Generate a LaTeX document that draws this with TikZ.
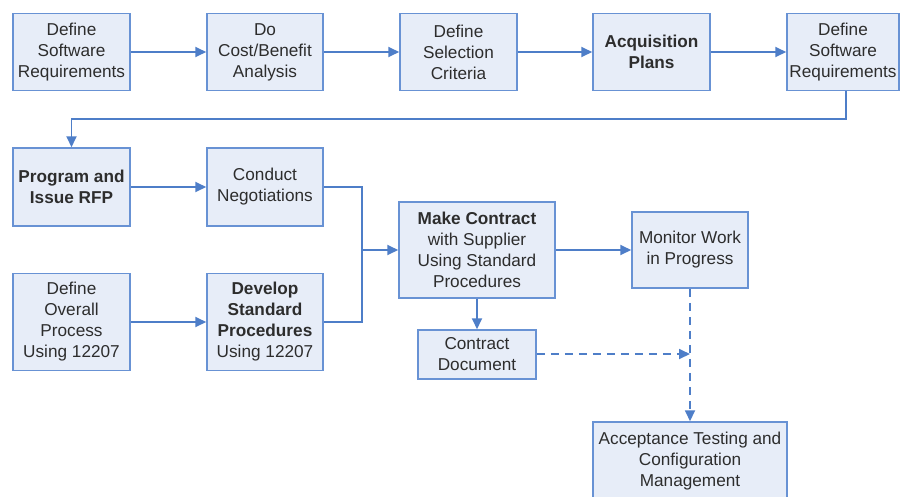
\documentclass[tikz,border=0pt]{standalone}
\usepackage{fontspec}
\setmainfont{Liberation Sans}
\usetikzlibrary{arrows.meta}
\definecolor{boxfill}{RGB}{231,237,248}
\definecolor{boxedge}{RGB}{104,146,212}
\definecolor{flow}{RGB}{78,126,200}
\definecolor{ink}{RGB}{45,45,45}
\begin{document}
\begin{tikzpicture}[x=1pt,y=-1pt,
  stepbox/.style={draw=boxedge,fill=boxfill,line width=1.5pt,inner sep=0pt,
    align=center,text=ink,font=\fontsize{17.2}{21}\selectfont},
  flowline/.style={draw=flow,line width=1.8pt},
  arr/.style={flowline,-{Triangle[length=11pt,width=10pt]}},
  dsh/.style={dash pattern=on 8pt off 6pt}]
\useasboundingbox (0,0) rectangle (901,496);
\begin{scope}
\clip (0,0) rectangle (901,496);
% top row
\node[stepbox,minimum width=117,minimum height=77] (b1) at (71.5,52) {Define\\Software\\Requirements};
\node[stepbox,minimum width=116,minimum height=77] (b2) at (265,52) {Do\\Cost/Benefit\\Analysis};
\node[stepbox,minimum width=117,minimum height=77] (b3) at (458.5,52) {Define\\Selection\\Criteria};
\node[stepbox,minimum width=117,minimum height=77] (b4) at (651.5,52) {\textbf{Acquisition}\\\textbf{Plans}};
\node[stepbox,minimum width=112,minimum height=77] (b5) at (843,52) {Define\\Software\\Requirements};
% second row
\node[stepbox,minimum width=117,minimum height=78] (b6) at (71.5,187) {\textbf{Program and}\\\textbf{Issue RFP}};
\node[stepbox,minimum width=116,minimum height=78] (b7) at (265,187) {Conduct\\Negotiations};
% third row
\node[stepbox,minimum width=117,minimum height=97] (b8) at (71.5,322) {Define\\Overall\\Process\\Using 12207};
\node[stepbox,minimum width=116,minimum height=97] (b9) at (265,322) {\textbf{Develop}\\\textbf{Standard}\\\textbf{Procedures}\\Using 12207};
% contract and monitoring
\node[stepbox,minimum width=156,minimum height=96] (b10) at (477,250) {\textbf{Make Contract}\\with Supplier\\Using Standard\\Procedures};
\node[stepbox,minimum width=116,minimum height=76] (b11) at (690,250) {Monitor Work\\in Progress};
\node[stepbox,minimum width=118,minimum height=49] (b12) at (477,354.5) {Contract\\Document};
\node[stepbox,minimum width=194,minimum height=78] (b13) at (690,461) {Acceptance Testing and\\Configuration\\Management};
\end{scope}
% junction points
\coordinate (j) at (362,250);
\coordinate (m) at (690,354);
% connectors
\draw[arr] (b1) -- (b2);
\draw[arr] (b2) -- (b3);
\draw[arr] (b3) -- (b4);
\draw[arr] (b4) -- (b5);
\draw[arr] ([xshift=3pt]b5.south) -- ++(0,28) -| (b6.north);
\draw[arr] (b6) -- (b7);
\draw[arr] (b8) -- (b9);
\draw[flowline] (b7.east) -| (j) |- (b9.east);
\draw[arr] (j) -- (b10.west);
\draw[arr] (b10) -- (b11);
\draw[arr] (b10.south) -- (b12.north);
\draw[arr,dsh] (b12.east |- m) -- (m);
\draw[arr,dsh] (b11.south) -- (b13.north);
\end{tikzpicture}
\end{document}
